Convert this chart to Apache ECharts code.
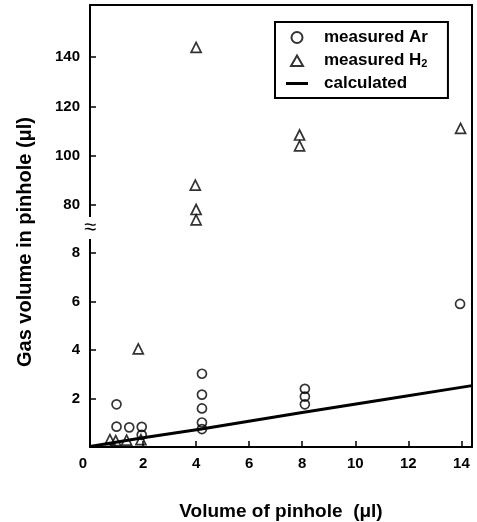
<!DOCTYPE html>
<html>
<head>
<meta charset="utf-8">
<script src="https://cdn.jsdelivr.net/npm/echarts@6/dist/echarts.min.js"></script>
<style>
  html, body { margin: 0; padding: 0; background: #fff; }
  #chart { width: 477px; height: 522px; }
</style>
</head>
<body>
<div id="chart"></div>
<script>
// measured Ar (circles), lower panel
var arX = [1.0, 1.0, 1.48, 1.95, 1.95, 4.22, 4.22, 4.22, 4.22, 4.22, 8.1, 8.1, 8.1, 13.95];
var arY = [1.76, 0.84, 0.81, 0.83, 0.5, 3.02, 2.16, 1.59, 1.01, 0.74, 2.4, 2.08, 1.76, 5.9];
// measured H2 (triangles), lower panel
var h2LowX = [0.75, 0.97, 1.38, 1.92, 1.82];
var h2LowY = [0.3, 0.26, 0.28, 0.3, 4.05];
// measured H2 (triangles), upper panel
var h2HighX = [4.0, 3.97, 4.0, 4.0, 7.9, 7.9, 13.97];
var h2HighY = [143.9, 88.1, 78.2, 74.0, 108.4, 104.0, 111.1];
// calculated line
var calcX = [0, 2, 4.2, 8, 11.1, 14.4];
var calcY = [0.02, 0.38, 0.74, 1.42, 1.96, 2.53];
// tick labels
var xTicks = [0, 2, 4, 6, 8, 10, 12, 14];
var yLowTicks = [2, 4, 6, 8];
var yHighTicks = [80, 100, 120, 140];

function pairs(xs, ys) {
  return xs.map(function (x, i) { return [x, ys[i]]; });
}

var font = 'Liberation Sans, Arial, sans-serif';
var lineStyle = { color: '#000', width: 2 };
var tickStyle = { color: '#000', width: 1.5 };
var hollow = { color: 'rgba(0,0,0,0)', borderColor: '#000', borderWidth: 1.7 };
var labelStyle = { fontFamily: font, fontWeight: 'bold', fontSize: 15, color: '#000' };

var chart = echarts.init(document.getElementById('chart'));
chart.setOption({
  animation: false,
  backgroundColor: '#fff',
  grid: [
    { left: 90, right: 5, top: 5, height: 223 },
    { left: 90, right: 5, top: 228, bottom: 72 }
  ],
  xAxis: [
    {
      gridIndex: 0, type: 'value', position: 'top', min: 0, max: 14.4,
      axisLine: { lineStyle: lineStyle }, axisTick: { show: false },
      axisLabel: { show: false }, splitLine: { show: false }
    },
    {
      gridIndex: 1, type: 'value', min: 0, max: 14.4,
      name: 'Volume of pinhole  (\u03bcl)', nameLocation: 'middle', nameGap: 55,
      nameTextStyle: { fontFamily: font, fontWeight: 'bold', fontSize: 19, color: '#000' },
      axisLine: { lineStyle: lineStyle },
      axisTick: { inside: true, length: 6, lineStyle: tickStyle, customValues: xTicks },
      axisLabel: Object.assign({
        customValues: xTicks, margin: 9,
        formatter: function (v) { return v === 0 ? '{z|0}' : String(v); },
        rich: { z: { fontFamily: font, fontWeight: 'bold', fontSize: 15, color: '#000', padding: [0, 14, 0, 0] } }
      }, labelStyle),
      splitLine: { show: false }
    }
  ],
  yAxis: [
    {
      gridIndex: 0, type: 'value', min: 70.7, max: 161.1,
      axisLine: { lineStyle: lineStyle },
      axisTick: { inside: true, length: 6, lineStyle: tickStyle, customValues: yHighTicks },
      axisLabel: Object.assign({ customValues: yHighTicks, margin: 10 }, labelStyle),
      splitLine: { show: false }
    },
    {
      gridIndex: 1, type: 'value', min: 0, max: 9.03,
      axisLine: { lineStyle: lineStyle },
      axisTick: { inside: true, length: 6, lineStyle: tickStyle, customValues: yLowTicks },
      axisLabel: Object.assign({ customValues: yLowTicks, margin: 10 }, labelStyle),
      splitLine: { show: false }
    },
    {
      gridIndex: 0, type: 'value', position: 'right', min: 70.7, max: 161.1,
      axisLine: { lineStyle: lineStyle }, axisTick: { show: false },
      axisLabel: { show: false }, splitLine: { show: false }
    },
    {
      gridIndex: 1, type: 'value', position: 'right', min: 0, max: 9.03,
      axisLine: { lineStyle: lineStyle }, axisTick: { show: false },
      axisLabel: { show: false }, splitLine: { show: false }
    }
  ],
  legend: {
    left: 275, top: 22, orient: 'vertical',
    padding: [7, 20, 6, 9], itemGap: 6, itemWidth: 24, itemHeight: 12,
    borderColor: '#000', borderWidth: 2, backgroundColor: '#fff',
    textStyle: {
      fontFamily: font, fontWeight: 'bold', fontSize: 17, color: '#000', padding: [0, 0, 0, 10],
      rich: { sub: { fontFamily: font, fontWeight: 'bold', fontSize: 11, verticalAlign: 'bottom', padding: [6, 0, 0, 0] } }
    },
    formatter: function (name) {
      return name === 'measured H2' ? 'measured H{sub|2}' : name;
    },
    data: [
      { name: 'measured Ar', icon: 'path://M0,0 M24,12 M12,0.5 A5.5,5.5 0 1 1 11.99,0.5 Z', itemStyle: { color: '#fff', borderColor: '#000', borderWidth: 2 } },
      { name: 'measured H2', icon: 'path://M0,0 M24,12 M6,11.5 L12,1 L18,11.5 Z', itemStyle: { color: '#fff', borderColor: '#000', borderWidth: 2 } },
      { name: 'calculated', icon: 'path://M0,0 M24,12 M1,4.5 L23,4.5 L23,7.5 L1,7.5 Z', itemStyle: { color: '#000', borderWidth: 0 } }
    ]
  },
  graphic: [
    {
      type: 'text', x: 25, y: 242, rotation: Math.PI / 2,
      style: {
        text: 'Gas volume in pinhole (\u03bcl)', fontFamily: font, fontWeight: 'bold', fontSize: 20,
        fill: '#000', align: 'center', verticalAlign: 'middle'
      }
    },
    {
      type: 'text', x: 90, y: 228, z: 100,
      style: {
        text: '\u2248', fontFamily: font, fontSize: 22, fill: '#000',
        align: 'center', verticalAlign: 'middle', backgroundColor: '#fff', padding: [0, 1]
      }
    }
  ],
  series: [
    {
      name: 'measured Ar', type: 'scatter', xAxisIndex: 1, yAxisIndex: 1,
      symbol: 'circle', symbolSize: 9, itemStyle: hollow,
      data: pairs(arX, arY)
    },
    {
      name: 'measured H2', type: 'scatter', xAxisIndex: 1, yAxisIndex: 1,
      symbol: 'triangle', symbolSize: 10, itemStyle: hollow,
      data: pairs(h2LowX, h2LowY)
    },
    {
      name: 'measured H2', type: 'scatter', xAxisIndex: 0, yAxisIndex: 0,
      symbol: 'triangle', symbolSize: 10, itemStyle: hollow,
      data: pairs(h2HighX, h2HighY)
    },
    {
      name: 'calculated', type: 'line', xAxisIndex: 1, yAxisIndex: 1,
      symbol: 'none', lineStyle: { color: '#000', width: 3 }, itemStyle: { color: '#000' },
      data: pairs(calcX, calcY)
    }
  ]
});
</script>
</body>
</html>
